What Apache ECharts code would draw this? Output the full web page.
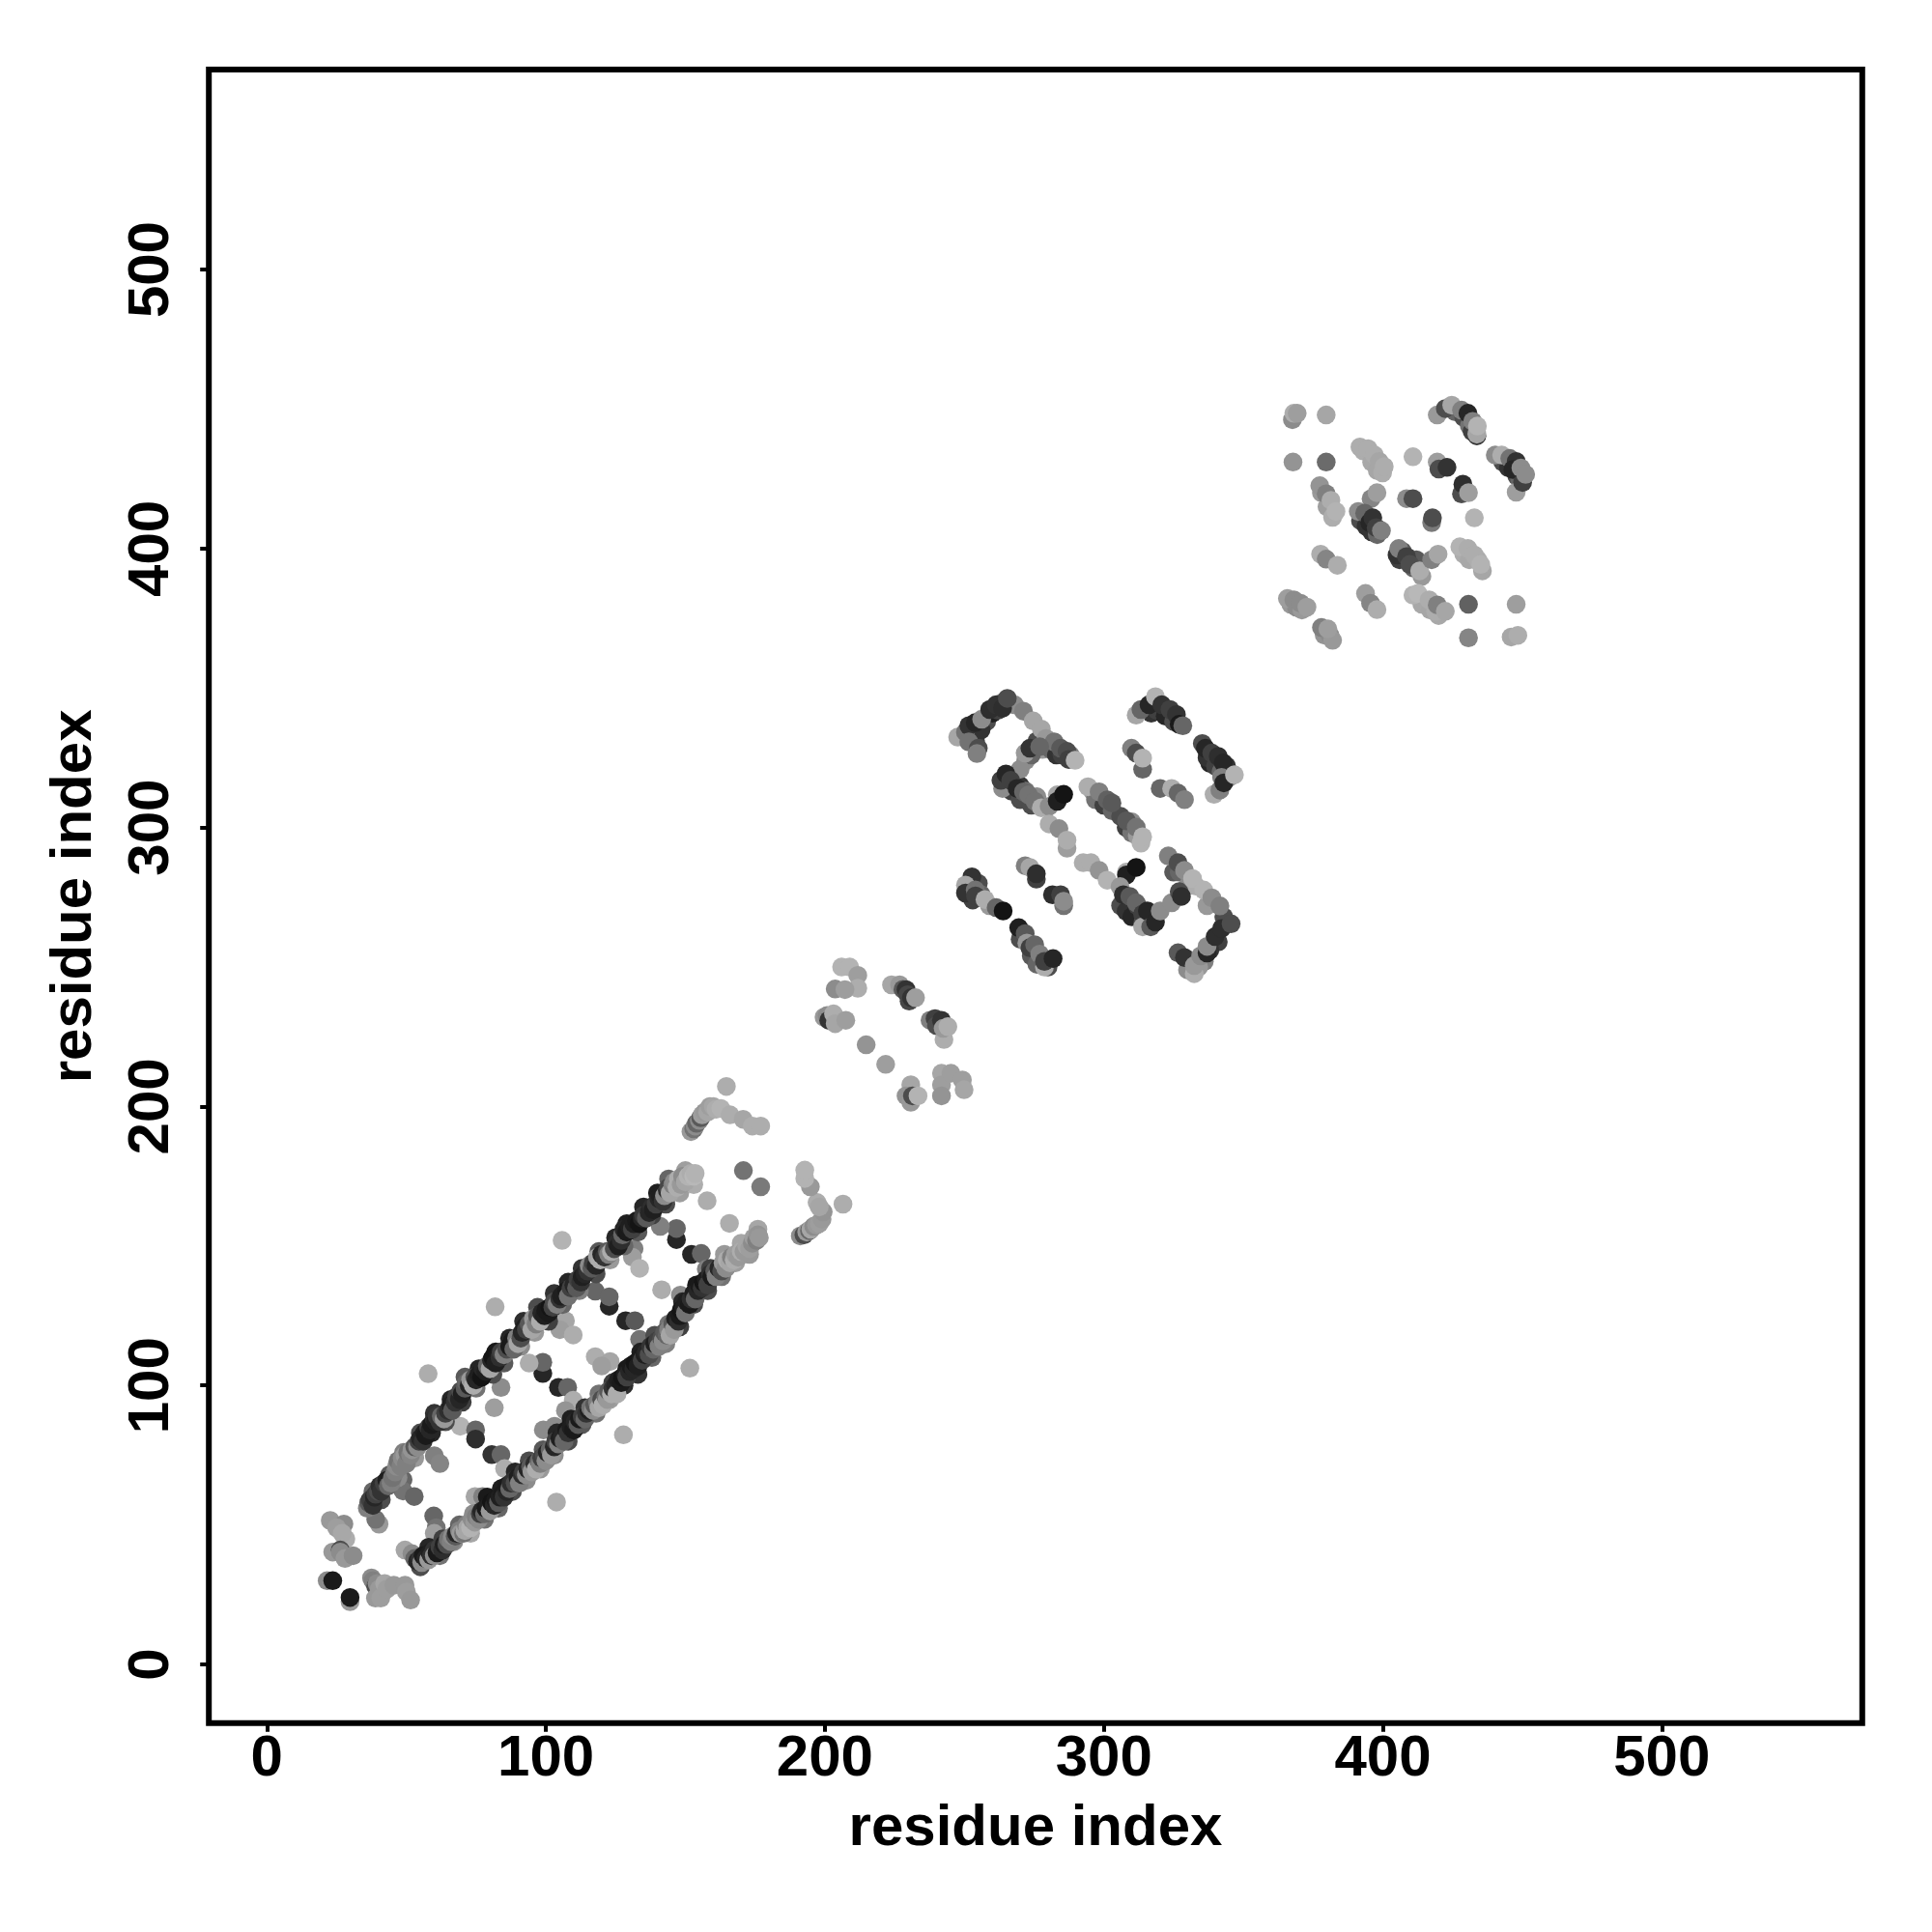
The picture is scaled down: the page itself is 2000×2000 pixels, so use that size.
<!DOCTYPE html>
<html><head><meta charset="utf-8">
<style>html,body{margin:0;padding:0;background:#fff}#c{width:2000px;height:2000px}</style>
<script src="https://cdn.jsdelivr.net/npm/echarts@6/dist/echarts.min.js"></script>
</head><body><div id="c"></div>
<script>
const xTicks=[0,100,200,300,400,500];
const yTicks=[0,100,200,300,400,500];
const xTitle='residue index', yTitle='residue index';
// each contact: [residue i, residue j, grey level in percent]
const cornerContacts=[[22.7,51.6,60],[27.6,50.3,55],[25,49,62],[28.3,45,68],[27,47,66],[21.6,30,55],[23.6,30,10],[23.6,40.3,60],[26.3,41,30],[26.3,40.3,55],[28,38,60],[30.9,39,55],[29.8,22.5,60],[29.8,24,10],[37.5,31,55],[38,30,50],[39,28,30],[39.5,29,55],[40.2,27,60],[38.9,23.8,60],[40.8,23.8,62],[42.2,29,65],[43,27,62],[45.5,28.4,60],[49.5,28.4,60],[50,26,62],[51.5,23.1,60]];
const upperFill=[[38,62,40],[41,59,30],[44,68,35],[47,67,55],[49,76,50],[53,74,60],[55,83,30],[59,83,15],[60,90,20],[64,87,30],[66,95,15],[70,94,25],[71,103,35],[75,99,45],[76,106,15],[81,104,30],[82,112,10],[85,108,35],[87,117,15],[91,114,55],[92,123,18],[96,119,60],[97,128,30],[101,123,25],[103,133,20],[106,129,40],[108,137,15],[112,134,50],[113,142,20],[118,140,30],[119,148,35],[123,145,60],[125,153,15],[128,150,40],[129,158,12],[133,155,35],[135,164,15],[138,161,25],[140,169,12],[143,165,30],[144,174,40],[148,169,62],[150,177,62],[153,172,68]];
const lowerFill=[[55,35,30],[58,42,15],[62,39,45],[63,45,25],[67,44,55],[69,50,40],[73,47,65],[74,54,55],[78,52,45],[79,60,10],[83,56,40],[84,63,12],[88,62,30],[89,69,15],[93,66,55],[94,73,30],[98,70,60],[99,77,35],[103,75,55],[104,83,15],[108,80,30],[109,88,12],[113,86,35],[114,92,20],[118,90,45],[119,97,45],[123,95,62],[124,101,25],[128,100,18],[129,106,10],[133,104,20],[134,112,12],[138,110,40],[139,118,30],[143,115,50],[144,122,45],[148,121,25],[149,130,15],[153,129,30],[154,136,10],[158,134,30],[159,142,25],[163,139,45],[164,147,60],[168,144,62],[170,151,65],[173,147,60],[176,156,65]];
const upperRail=[[36,56,50],[36.5,58,35],[37,59,25],[38,57,20],[38.5,60,15],[39,61,25],[40,62,30],[40.5,64,18],[41,62,20],[42,65,25],[43,66,12],[43.5,64,40],[44.5,65,50],[45,67,45],[46,69,50],[46.5,71,55],[47,73,45],[48,71,50],[48.5,74,55],[49.5,75,60],[50,72,50],[50.5,76,45],[51.5,75,52],[52,77,58],[53,78,35],[54,78,55],[54.5,80,25],[55,81,15],[56,80,20],[56.5,83,12],[57,82,10],[58,85,25],[58.5,84,15],[59,86,10],[60,88,18],[60.5,87,12],[61,89,22],[62,87,20],[62.5,89,40],[63.5,88,60],[64,90,25],[65,91,18],[66,93,12],[66.5,91,35],[67.5,94,20],[68,96,25],[69,95,15],[69.5,98,30],[70,97,12],[71,99,35],[71.5,101,40],[72.5,100,15],[73,102,60],[74,100,68],[74.5,103,30],[75,102,15],[76,104,12],[77,103,8],[77.5,106,15],[78.5,105,12],[79,107,40],[80,106,65],[80.5,109,15],[81,110,8],[82,108,12],[83,111,10],[83.5,110,18],[84,112,25],[85,111,50],[86,113,30],[87,114,10],[88,116,10],[88.5,113,40],[89.5,117,50],[90,115,65],[91,117,30],[91.5,119,15],[92.5,121,12],[93,120,25],[94,122,35],[95,120,65],[95.5,124,60],[96.5,122,50],[97,125,35],[98,123,68],[98.5,126,15],[99.5,125,12],[100,127,10],[101,126,10],[101.5,128,8],[102.5,128,25],[103,130,30],[104,129,50],[105,131,20],[105.5,132,12],[106.5,133,12],[107.5,134,10],[108,132,45],[109,135,25],[110,136,15],[111,135,35],[111.5,138,25],[112.5,137,20],[113,139,12],[114,140,15],[115,141,20],[115.5,143,55],[116.5,142,35],[117,144,25],[118,143,15],[118.5,146,65],[119.5,145,68],[120,147,15],[121,146,20],[122,148,35],[122.5,147,50],[123.5,148,68],[124.5,149,30],[125.5,151,18],[126,150,12],[127,152,18],[127.5,154,40],[128,156,15],[129,155,10],[130,157,12],[131,156,25],[131.5,158,12],[132.5,159,10],[133.5,158,8],[134.5,160,15],[135,161,22],[136,160,35],[137,162,15],[138,164,18],[138.5,163,12],[139.5,165,25],[140.5,167,15],[141,168,12],[142,166,20],[142.5,168,55],[143.5,170,18],[144,171,28],[144.5,169,65],[145.5,172,50],[146,173,55],[147,171,68],[147.5,174,68],[148.5,172,60],[149,175,55],[150,173,65],[151,175,70],[152,176,68],[153,175,72],[153.5,176,70]];
const lowerRail=[[49.5,41,65],[52,39.7,55],[53,38,40],[54,37,15],[55,38,20],[55.5,36.5,55],[56,39,10],[57,38,15],[58,37.5,60],[58.5,40,12],[59,39,18],[60,41,20],[60,39,55],[61,40,10],[62,42,25],[63,41,18],[63.5,43,12],[64.5,43,30],[65,45,45],[66,44,50],[66.5,46,55],[67.5,46,35],[68,47,15],[69,48,50],[69.5,47,60],[70.5,47,45],[71,48,65],[71.5,50,50],[72,49,65],[73,49,70],[73.5,52,55],[74.5,51,60],[75,53,50],[76,52,55],[76.5,54,25],[77,55,15],[78,54,40],[78.5,56,10],[79.5,57,12],[80,55,60],[80.5,58,8],[81.5,57,15],[82,59,10],[83,58,35],[83.5,60,12],[84.5,61,10],[85,60,20],[86,62,15],[86,64,10],[87,63,40],[87.5,65,18],[88.5,66,20],[89,65,30],[90,67,12],[90.5,65,50],[91.5,68,18],[92,69,25],[93,68,55],[93.5,70,15],[94.5,71,35],[95,69,60],[96,72,18],[96.5,70,68],[97.5,73,40],[98,72,50],[98.5,74,25],[99.5,75,30],[100,73,55],[100.5,76,15],[101.5,77,40],[102,75,60],[103,78,15],[103.5,80,25],[104.5,79,50],[105,81,12],[106,82,15],[106.5,80,40],[107.5,84,10],[108,83,20],[109,85,12],[110,84,10],[110.5,87,15],[111.5,86,35],[112,88,10],[113,89,25],[114,88,40],[114.5,90,20],[115.5,91,12],[116,92,45],[117,91,55],[117.5,93,35],[118.5,94,50],[119,92,65],[120,95,30],[120.5,93,68],[121.5,96,45],[122,95,60],[122.5,98,35],[123.5,97,68],[124,99,20],[125,100,15],[125.5,97,68],[126,102,12],[127,101,10],[127.5,103,8],[128.5,104,12],[129,103,25],[130,105,15],[130.5,107,10],[131.5,106,15],[132,108,8],[133,107,12],[134,110,10],[134.5,109,25],[135.5,111,12],[136,112,15],[137,111,30],[137.5,114,20],[138.5,113,40],[139,115,12],[140,116,25],[140.5,114,50],[141.5,117,30],[142,116,55],[142.5,119,35],[143.5,118,40],[144,120,50],[144.5,118,65],[145.5,122,35],[146,120,60],[146.5,124,12],[147.5,123,18],[148,125,10],[148.5,127,8],[149.5,128,12],[150,126,45],[150.5,130,12],[151.5,129,10],[152,131,18],[153,133,12],[153.5,131,40],[154.5,134,15],[155,136,10],[156,135,20],[156.5,137,8],[157.5,138,12],[158,136,25],[159,140,18],[159.5,139,10],[160.5,141,35],[161,139,50],[162,142,15],[163,141,30],[163.5,144,60],[164.5,142,55],[165,145,68],[166,144,65],[166.5,146,50],[167.5,145,68],[168,147,62],[169,146,60],[170,148,68],[171,148,60],[172,150,65],[173,149,62],[174,151,55],[174.5,153,62],[175.5,152,50],[176,154,58],[176.5,153,60]];
const rungContacts=[[40.2,50.3,60],[39,52,45],[48.8,66.2,40],[48.8,62.2,45],[52.8,60.2,40],[59.8,53.2,40],[60.7,49,45],[60,47,62],[60,74.8,50],[62,72,52],[69.3,85.4,70],[74.8,84.1,40],[74.8,80.8,18],[80.6,75.2,20],[83.9,75.2,40],[85.2,70.2,68],[74.6,60.2,65],[77.3,60.2,50],[83.9,99.3,55],[81.5,92,62],[98.9,104.3,15],[98.9,108.3,40],[94,108,68],[104.5,99.3,15],[107.8,99.3,40],[109.8,94.7,68],[107,91,58],[99.1,84.1,55],[103.1,85.4,55],[107,123.2,65],[105,120,62],[109.8,118.1,68],[117.7,110.3,68],[123,108.6,65],[120,107,62],[117.7,133.8,40],[122.7,128.4,15],[122.7,131.8,40],[128.6,123.2,15],[131.9,123.2,35],[133.6,116.5,45],[131.6,149,50],[131,146,62],[133.6,142,70],[141.5,134.3,68],[148.2,132.4,55],[146.8,152.3,15],[146.8,156.3,40],[141,157,50],[152.2,147,15],[155.7,147.3,40],[157.5,141.7,50]];
const strayContacts=[[57.8,104.2,68],[81.8,128.2,68],[105.8,152,70],[103.8,58.2,68],[127.8,82.3,68],[151.6,106.2,68],[157.8,166.2,68],[165.8,158.1,68],[170.8,177,45],[177,171.2,48]];
const sideContacts=[[152,191,60],[153,192,45],[153.5,193,55],[154,194,40],[155,195,55],[155.5,196,35],[156,197,62],[157,198,60],[158,198,65],[158.8,200,62],[160,200,65],[161,199,68],[162.7,199.3,70],[164.7,207.2,68],[166,197,68],[170.7,195.4,65],[174,193,68],[177,193,68],[191.2,153.6,55],[192.5,154,30],[193.5,155,60],[194.5,155.5,40],[195,156,65],[196,157,55],[197,157.5,60],[198,158,62],[199,159.6,60],[199.4,162.2,58],[197.2,165.6,68],[198,164,65],[194.8,171.2,60],[192.8,174.2,70],[192.8,177.2,70],[206.5,165,68]];
const betaA=[[206,250,70],[208.9,250,70],[211.8,247,62],[211.8,242.4,68],[203.7,242.1,55],[207.2,241.9,62],[199.7,232,60],[200.8,232.6,55],[201.4,230.9,20],[203.1,233.2,68],[203.7,229.7,65],[207.5,230.9,62],[214.8,222.1,58],[221.8,215.1,62],[223.9,243.6,65],[226.8,243.6,60],[228,242,35],[229.1,241.9,20],[229.7,240.1,28],[230.2,237.8,28],[231,239,20],[232.5,239,62],[237.7,230.9,50],[239.5,231.5,25],[240,229,30],[241.8,230.9,20],[242.7,224,68],[242.4,228,60],[244.1,228.6,68],[230.8,207.8,65],[229.1,203.8,58],[230.8,201.5,60],[231.4,203.8,30],[233.4,203.8,70],[241.8,211.9,65],[241.8,207.8,62],[241.8,203.8,58],[245.2,211.9,62],[249.3,209.5,62],[249.9,206,65]];
const betaFill=[[258,338,30],[252,333,40],[254,331,25],[256,335,20],[260,341,12],[262,342,25],[264,345,45],[268,344,55],[276,331,30],[278,328,60],[281,328,40],[283,326,20],[285,326,25],[288,326,50],[272,324,55],[274,326,40],[265,315,35],[267,313,25],[270,310,30],[270,315,20],[272,313,45],[274,308,30],[276,311,55],[296,313,60],[297,310,45],[300,308,25],[303,306,40],[306,304,30],[308,300,25],[310,302,55],[310,298,45],[312,297,60],[317,341,20],[319,342,25],[322,340,15],[325,338,30],[338,323,15],[337,325,20],[340,322,25],[342,320,40],[344,322,20],[345,318,55],[255,280,30],[256,276,40],[259,272,60],[253,274,25],[270,260,30],[274,254,35],[276,251,40],[280,250,30],[306,272,30],[308,270,20],[310,268,15],[312,272,25],[314,266,30],[316,267,45],[325,284,35],[327,284,40],[330,279,55],[333,279,68],[337,272,60],[343,268,30],[341,259,25],[338,256,20],[336,252,50],[334,250,60],[330,249,55]];
const betaB=[[247.6,332.4,65],[250.4,334.2,45],[251.6,336.5,20],[251.6,330.7,45],[253.9,337.6,15],[255,328.4,30],[254.5,326.5,50],[256.2,338.8,55],[259.1,342.3,18],[261.4,344,20],[263.7,342.8,18],[265.4,346.3,30],[271.2,341.7,50],[274.7,338.2,65],[277.6,335.3,65],[279.3,331.9,60],[282.2,330.7,45],[284.5,328.4,35],[286.8,327.3,30],[287.4,324.4,25],[289.7,324.1,70],[270,320.9,55],[271.8,326.7,60],[273.5,328.4,20],[277,329,40],[263.7,314,55],[263.1,316.9,25],[264.9,319.2,15],[266.6,316.9,25],[268.9,314,15],[271.2,312.8,40],[273,311.7,45],[275.3,309.4,45],[277.6,307.1,68],[280.4,307.6,55],[283.3,311.7,65],[283.3,309.4,12],[285.6,311.9,8],[280.4,301.3,68],[283.9,299.6,55],[286.8,292.6,62],[286.8,295.5,68],[294.3,314.6,68],[298.3,312.8,50],[301.2,309.9,38],[302.9,308.8,35],[308.1,302.4,35],[311.6,300.1,45],[313.3,294.4,70],[313.9,296.7,70]];
const betaC=[[311.6,340.3,65],[313.3,342.3,40],[316.2,344,15],[318.5,346.9,70],[320.8,344,20],[323.7,342.3,25],[326,340.5,20],[327,337,10],[328.3,336.5,40],[309.9,328.4,50],[311.6,326.7,30],[313.9,320.9,40],[313.9,324.9,70],[320.2,314,40],[324.3,314,68],[326.6,312.3,40],[328.9,310,50],[335.3,330.1,30],[336.4,328.4,15],[338.7,326.7,25],[341,325.5,18],[342.8,323.2,15],[339.5,311.9,68],[341.6,313.4,50],[342.2,318,50],[343,316,15],[346.8,318.9,70]];
const betaD=[[252.7,282.3,20],[250.4,279.4,65],[250.4,276.5,20],[253.9,277.6,45],[254,275.5,25],[257.4,274.2,68],[261.4,271.3,40],[263.9,270.1,8],[269.5,264.1,12],[271.8,262,35],[272.4,258.6,60],[273.5,256.9,25],[275.2,258,40],[277,254.6,50],[278.7,250,68],[278.7,252,25],[281.8,253,15],[271.8,286.3,50],[273.5,285.7,65],[275.8,281.5,25],[275.8,283.4,18],[281.6,275.9,18],[284.5,275.9,25],[285.6,272,45],[285.6,273.6,55],[292.6,287.4,68],[295.4,287.4,68],[298.3,284.6,58],[301.2,281.1,70],[308.1,284,68],[308.1,283,12],[311.6,285.7,8],[305.8,278.8,60],[307,275.9,18],[309.3,275.3,35],[311.6,273,40],[313.9,269,25],[313.9,264.4,65],[315.6,270.1,15],[316.8,264.4,35],[318.5,266.1,15],[320.2,270.1,55],[324.3,273,55],[327,277,30],[327.8,275.3,18],[323.1,289.8,50],[326.6,287.4,30],[328.9,284.6,55],[331.8,281.7,70],[335.8,277.6,70],[338.7,274.8,55],[341.6,271.9,50],[326.6,255.1,35],[328.9,253.4,20],[332.4,247.6,68],[332.4,250.5,60],[334.7,254,55],[337,255,15],[337,257.4,55],[339.9,260.9,18],[342.2,263.8,18],[345.6,265.5,30]];
const domainFill=[[393,435,68],[396,431,66],[398,428,65],[426,449,40],[429,447,30],[431,444,45],[432,442,25],[443,431,30],[445,429,20],[448,426,30],[449,425,40],[392,410,30],[394,408,20],[396,406,20],[398,405,40],[406,396,25],[407,399,35],[411,393,40],[412,396,35],[414,390,60],[429,398,68],[431,396,66],[434,396,68],[378,420,60],[380,415,62],[367,380,60],[369,379,55],[371,378,60],[379,369,58],[381,369,55],[414,380,66],[417,378,65],[420,376,66]];
const domainE=[[367.6,446.2,55],[368.1,448.5,68],[369.3,448.5,62],[379.7,447.9,65],[367.8,431,58],[379.7,431,42],[391.8,436.4,68],[394.7,435.8,68],[397,433.5,68],[398.7,431.2,65],[399.9,427.1,68],[400.5,429.4,68],[410.8,432.9,70],[419.5,431,62],[420.1,428.5,30],[423,429.1,20],[428.2,419.6,30],[428.7,423.1,18],[430.7,420,62],[419.5,447.9,60],[422.4,450.2,30],[424.7,451.4,65],[428.2,449.6,50],[430.5,448.5,15],[432.2,445.6,50],[433.7,440.4,20],[433.7,441,65],[433.9,443.9,70],[440.3,433.5,55],[442.6,433.5,68],[445.5,432.3,45],[447.8,420.2,62],[447.8,431.2,20],[446.6,428.3,15],[449.5,428.9,55],[450.1,423.7,25],[451.2,426.6,55],[377.4,422.5,58],[379.7,419.6,50],[381.4,417.3,68],[382,411.2,68],[383.2,413.3,70],[395.8,417.9,52],[397.9,420,62],[408.5,417.9,55],[410.8,417.9,30],[417.5,409.3,48],[417.8,411,30],[432.8,411,70],[391.2,413.3,55],[393.5,412.7,40],[395.3,409.3,15],[396.4,411,20],[397.6,407.5,25],[399.5,406.4,50],[405.1,397.7,20],[405.7,400,50],[408.5,397.1,25],[409.7,394.3,30],[413.2,392,68],[417.5,396,50],[419.8,398,65],[427.6,400.6,70],[430.5,400,68],[432.8,397.7,68],[435.7,392,65],[435.1,394.3,70],[377.7,398,68],[379.7,396.2,52],[383.7,394,68],[365.8,382.1,62],[368.1,381.6,55],[370.5,380.4,55],[372.8,379,62],[378,371.7,50],[382,367.1,60],[380.3,371.2,62],[393.8,383.9,62],[395.6,380.4,52],[397.9,378.1,68],[410.8,383.3,70],[412.6,383.9,72],[416.6,381.6,68],[418.9,377.5,68],[419.5,379.8,50],[422.4,377.5,65],[430.7,380,38],[447.8,380,62],[430.7,368,52],[446,368.3,65],[448.4,368.9,68]];

const contacts=[...cornerContacts,...rungContacts,...strayContacts,...upperFill,...lowerFill,...upperRail,...lowerRail,...sideContacts,...betaA,...betaFill,...betaB,...betaC,...betaD,...domainFill,...domainE];
const axisCommon=(ticks)=>({type:'value',interval:100,splitLine:{show:false},
  axisLine:{show:false,onZero:false},
  axisTick:{show:true,length:9,inside:false,customValues:ticks,lineStyle:{color:'#000',width:4}},
  axisLabel:{show:true,customValues:ticks,color:'#000',fontFamily:'Liberation Sans',fontWeight:'bold',fontSize:60},
  nameLocation:'middle',nameTextStyle:{color:'#000',fontFamily:'Liberation Sans',fontWeight:'bold',fontSize:60}});
const xAxis=axisCommon(xTicks), yAxis=axisCommon(yTicks);
xAxis.axisLabel.margin=8; yAxis.axisLabel.margin=29; yAxis.axisLabel.rotate=90;
const chart=echarts.init(document.getElementById('c'),null,{renderer:'canvas'});
chart.setOption({animation:false,backgroundColor:'#fff',
  grid:{left:216.2,top:72,width:1711.6,height:1711.8,show:true,borderColor:'#000',borderWidth:6,backgroundColor:'transparent'},
  xAxis:Object.assign(xAxis,{min:-20.81,max:571.85,name:xTitle,nameGap:80}),
  yAxis:Object.assign(yAxis,{min:-21.05,max:571.7,name:yTitle,nameGap:109}),
  visualMap:{show:false,type:'continuous',dimension:2,min:0,max:100,inRange:{color:['#000000','#ffffff']}},
  series:[{type:'scatter',data:contacts,symbol:'circle',symbolSize:19.5,itemStyle:{opacity:1},clip:true,z:1}]
});
</script></body></html>
